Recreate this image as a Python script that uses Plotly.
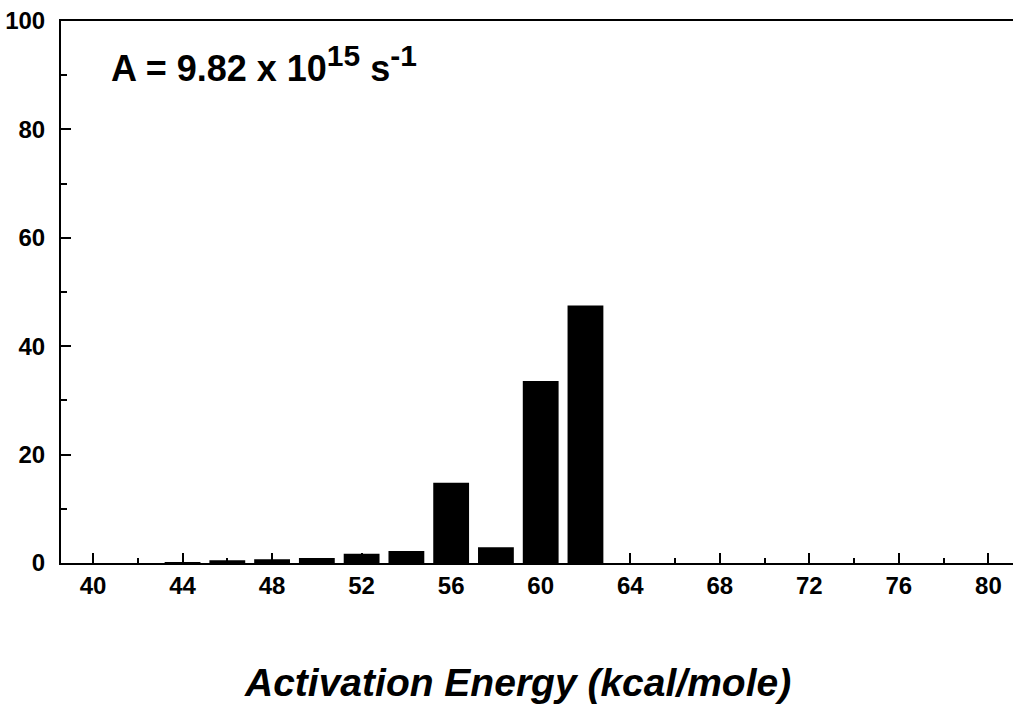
import plotly.graph_objects as go

energies = [44, 46, 48, 50, 52, 54, 56, 58, 60, 62]
percents = [0.15, 0.5, 0.7, 0.9, 1.7, 2.2, 14.8, 2.9, 33.6, 47.5]
x_ticks = [40, 44, 48, 52, 56, 60, 64, 68, 72, 76, 80]
y_ticks = [0, 20, 40, 60, 80, 100]

FONT = "Liberation Sans, Arial, sans-serif"

fig = go.Figure()
fig.add_trace(go.Bar(x=energies, y=percents, width=1.6,
                     marker=dict(color="black", line=dict(width=0))))

fig.update_layout(
    width=1013, height=706,
    margin=dict(l=61, r=0, t=21, b=143),
    paper_bgcolor="white", plot_bgcolor="white",
    showlegend=False,
    font=dict(family=FONT, color="black"),
)
fig.update_xaxes(
    range=[38.57, 81.1], tickvals=x_ticks, ticktext=[str(v) for v in x_ticks],
    ticks="inside", ticklen=10, tickwidth=1.5, tickcolor="black",
    minor=dict(ticks="inside", ticklen=5, tickwidth=1.5, tickcolor="black", dtick=2, tick0=40),
    showline=True, linewidth=2, linecolor="black", mirror=True,
    showgrid=False, zeroline=False,
    tickfont=dict(family=FONT, size=24, color="black", weight="bold"),
    ticklabelstandoff=0,
)
fig.update_yaxes(
    range=[0, 100], tickvals=y_ticks, ticktext=[str(v) for v in y_ticks],
    ticks="inside", ticklen=10, tickwidth=1.5, tickcolor="black",
    minor=dict(ticks="inside", ticklen=6, tickwidth=1.5, tickcolor="black", dtick=10, tick0=0),
    showline=True, linewidth=2, linecolor="black", mirror=False,
    showgrid=False, zeroline=False,
    tickfont=dict(family=FONT, size=24, color="black", weight="bold"),
    ticklabelstandoff=9,
)
fig.add_annotation(
    text="A = 9.82 x 10<sup><span style='font-size:30px'>15</span></sup> s<sup><span style='font-size:30px'>-1</span></sup>",
    xref="paper", yref="paper", x=0.05, y=0.92, xanchor="left", yanchor="middle",
    showarrow=False, font=dict(family=FONT, size=36, color="black", weight="bold"),
)
fig.add_annotation(
    text="<b><i>Activation Energy (kcal/mole)</i></b>",
    xref="paper", yref="paper", x=0.48, y=-0.221, xanchor="center", yanchor="middle",
    showarrow=False, font=dict(family=FONT, size=39, color="black"),
)
fig.write_html("out.html")
